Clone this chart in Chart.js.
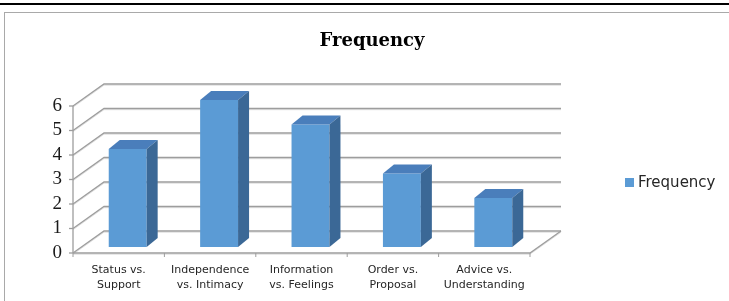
<!DOCTYPE html>
<html>
<head>
<meta charset="utf-8">
<title>Frequency</title>
<script src="https://cdn.jsdelivr.net/npm/chart.js@4.4.1/dist/chart.umd.min.js"></script>
<style>
    html, body { margin: 0; padding: 0; background: #fff; }
    canvas { display: block; }
</style>
</head>
<body>
<canvas id="freqChart" width="729" height="301"></canvas>
<script>
// Datos del gráfico
const chartTitle = 'Frequency';
const seriesName = 'Frequency';
const categories = [
    ['Status vs.', 'Support'],
    ['Independence', 'vs. Intimacy'],
    ['Information', 'vs. Feelings'],
    ['Order vs.', 'Proposal'],
    ['Advice vs.', 'Understanding']
];
const frequency = [4, 6, 5, 3, 2];
const yMin = 0;
const yMax = 6;
const yStep = 1;

// Colores
const barFront = '#5b9bd5';
const barTop = '#4a7ebb';
const barSide = '#3b6896';
const gridColor = '#9d9d9d';
const gridShade = '#dedede';

// Efecto 3D (px)
const DEPTH_X = 31, DEPTH_Y = -22;   // fondo de la caja
const SHIFT_X = -9, SHIFT_Y = 6;     // plano frontal respecto a las barras
const BAR_DX = 11, BAR_DY = -9;      // profundidad de cada barra

function strokePath(ctx, pts, color, width) {
    ctx.beginPath();
    ctx.moveTo(pts[0][0], pts[0][1]);
    for (let i = 1; i < pts.length; i++) ctx.lineTo(pts[i][0], pts[i][1]);
    ctx.strokeStyle = color;
    ctx.lineWidth = width;
    ctx.stroke();
}

function fillPoly(ctx, pts, color) {
    ctx.beginPath();
    ctx.moveTo(pts[0][0], pts[0][1]);
    for (let i = 1; i < pts.length; i++) ctx.lineTo(pts[i][0], pts[i][1]);
    ctx.closePath();
    ctx.fillStyle = color;
    ctx.fill();
}

// Marco de la página y fondo
const framePlugin = {
    id: 'frame',
    beforeDraw(chart) {
        const ctx = chart.ctx;
        ctx.save();
        ctx.fillStyle = '#fff';
        ctx.fillRect(0, 0, chart.width, chart.height);
        ctx.fillStyle = '#000';
        ctx.fillRect(0, 3, chart.width, 2);
        ctx.strokeStyle = '#a9a9a9';
        ctx.lineWidth = 1;
        ctx.strokeRect(4.5, 12.5, chart.width + 20, chart.height + 20);
        ctx.restore();
    }
};

// Paredes y suelo en perspectiva
const wallsPlugin = {
    id: 'walls',
    beforeDatasetsDraw(chart) {
        const { ctx, chartArea, scales: { x, y } } = chart;
        const left = chartArea.left + SHIFT_X;
        const right = chartArea.right + SHIFT_X;
        const y0 = y.getPixelForValue(yMin) + SHIFT_Y;
        ctx.save();

        y.ticks.forEach(t => {
            const py = y.getPixelForValue(t.value) + SHIFT_Y;
            const pts = [[left, py], [left + DEPTH_X, py + DEPTH_Y], [right + DEPTH_X, py + DEPTH_Y]];
            strokePath(ctx, pts.map(p => [p[0], p[1] + 1.2]), gridShade, 1);
            strokePath(ctx, pts, gridColor, 1.3);
            strokePath(ctx, [[left - 4, py], [left, py]], gridColor, 1.3);
        });

        // eje vertical frontal
        strokePath(ctx, [[left, y0], [left, y.getPixelForValue(yMax) + SHIFT_Y]], gridColor, 1.3);
        // borde del suelo
        strokePath(ctx, [[left, y0 + 1.2], [right, y0 + 1.2], [right + DEPTH_X, y0 + DEPTH_Y + 1.2]], gridShade, 1);
        strokePath(ctx, [[left, y0], [right, y0], [right + DEPTH_X, y0 + DEPTH_Y]], gridColor, 1.3);

        // marcas de categoría
        const catW = (chartArea.right - chartArea.left) / categories.length;
        for (let i = 0; i <= categories.length; i++) {
            const px = x.getPixelForValue(0) - catW / 2 + i * catW + SHIFT_X;
            strokePath(ctx, [[px, y0], [px, y0 + 4]], gridColor, 1);
        }
        ctx.restore();
    }
};

// Caras superior y lateral de cada barra
const barsPlugin = {
    id: 'bars3d',
    afterDatasetsDraw(chart) {
        const ctx = chart.ctx;
        const meta = chart.getDatasetMeta(0);
        ctx.save();
        meta.data.forEach(bar => {
            const { x, y, base, width } = bar.getProps(['x', 'y', 'base', 'width'], true);
            const l = x - width / 2, r = x + width / 2;
            fillPoly(ctx, [[l, y], [r, y], [r + BAR_DX, y + BAR_DY], [l + BAR_DX, y + BAR_DY]], barTop);
            fillPoly(ctx, [[r, y], [r + BAR_DX, y + BAR_DY], [r + BAR_DX, base + BAR_DY], [r, base]], barSide);
        });
        ctx.restore();
    }
};

// Título y leyenda
const labelsPlugin = {
    id: 'labels',
    afterDraw(chart) {
        const ctx = chart.ctx;
        ctx.save();
        ctx.fillStyle = '#000';
        ctx.font = 'bold 18px "DejaVu Serif"';
        ctx.textAlign = 'center';
        ctx.textBaseline = 'alphabetic';
        ctx.fillText(chartTitle, 372, 46);

        ctx.fillStyle = barFront;
        ctx.fillRect(625, 178, 9, 9);
        ctx.fillStyle = '#262626';
        ctx.font = '15px "DejaVu Sans"';
        ctx.textAlign = 'left';
        ctx.textBaseline = 'middle';
        ctx.fillText(seriesName, 638, 183);
        ctx.restore();
    }
};

function createFrequencyChart() {
    const ctx = document.getElementById('freqChart').getContext('2d');

    new Chart(ctx, {
        type: 'bar',
        data: {
            labels: categories,
            datasets: [{
                label: seriesName,
                data: frequency,
                backgroundColor: barFront,
                borderWidth: 0,
                barPercentage: 0.415,
                categoryPercentage: 1
            }]
        },
        options: {
            responsive: false,
            animation: false,
            devicePixelRatio: 1,
            layout: {
                padding: { top: 100, right: 190, bottom: 0, left: 0 }
            },
            plugins: {
                legend: { display: false },
                title: { display: false },
                tooltip: { enabled: false }
            },
            scales: {
                x: {
                    grid: { display: false },
                    border: { display: false },
                    afterFit: scale => { scale.height = 54; },
                    ticks: {
                        color: '#262626',
                        padding: 8,
                        labelOffset: SHIFT_X,
                        maxRotation: 0,
                        autoSkip: false,
                        font: { family: 'DejaVu Sans', size: 11, lineHeight: 1.35 }
                    }
                },
                y: {
                    min: yMin,
                    max: yMax,
                    grid: { display: false },
                    border: { display: false },
                    afterFit: scale => { scale.width = 82; },
                    ticks: {
                        stepSize: yStep,
                        autoSkip: false,
                        color: '#1a1a1a',
                        padding: 12,
                        labelOffset: SHIFT_Y,
                        font: { family: 'Liberation Serif', size: 19 }
                    }
                }
            }
        },
        plugins: [framePlugin, wallsPlugin, barsPlugin, labelsPlugin]
    });
}

createFrequencyChart();
</script>
</body>
</html>
